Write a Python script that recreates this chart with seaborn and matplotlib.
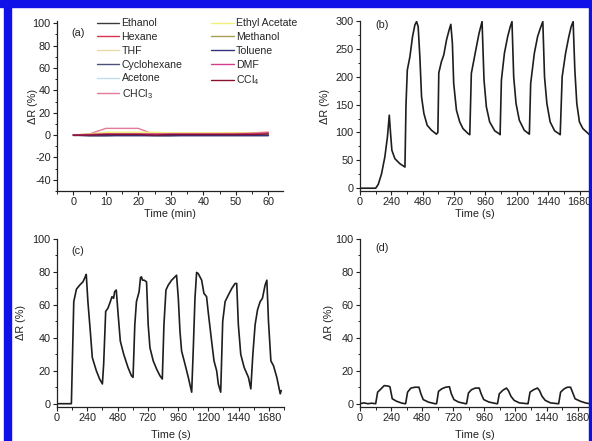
import matplotlib
matplotlib.use("Agg")
import matplotlib.pyplot as plt
import seaborn as sns
from matplotlib.patches import Rectangle
from matplotlib.ticker import MultipleLocator

# ---- panel (a): response of the sensor to 11 solvents, time in minutes
minutes = [0, 5, 10, 15, 20, 25, 30, 35, 40, 45, 50, 55, 60]
solvents = ["Ethanol", "Hexane", "THF", "Cyclohexane", "Acetone", "CHCl$_3$",
            "Ethyl Acetate", "Methanol", "Toluene", "DMF", "CCl$_4$"]
solvent_colors = ["#3a3a3a", "#d8344a", "#e6dca8", "#4a5078", "#bfe0f0", "#e47a98",
                  "#f2ee7a", "#a8a050", "#34347e", "#d4408a", "#8a1030"]
ethanol = [0, -0.5, -0.5, 0, 0, -0.5, -0.5, 0, 0, 0, 0, 0, 0.5]
hexane = [0, 0.5, 1.5, 1.5, 1.5, 1, 1.5, 1.5, 1.5, 1.5, 2, 2, 2.5]
thf = [0, 1, 2, 2, 2, 1, 1, 1, 1, 1, 1, 1, 1.5]
cyclohexane = [0, -0.5, -0.5, -0.5, -0.5, -0.5, -0.5, -0.5, -0.5, -0.5, -0.5, -0.5, -0.5]
acetone = [0, 0.5, 0.5, 0.5, 0.5, 0.5, 0.5, 0.5, 0.5, 0.5, 0.5, 0.5, 0.5]
chcl3 = [0, 1, 6, 6, 6, 0.5, 0.5, 0.5, 0.5, 0.5, 0.5, 1, 1.5]
ethyl_acetate = [0, 1, 2.5, 2.5, 2.5, 2.5, 2, 2, 2, 2, 2, 2, 2]
methanol = [0, 0.5, 1, 1, 1, 0.5, 0.5, 0.5, 0.5, 0.5, 0.5, 0.5, 1]
toluene = [0, 0, 0, 0, 0, 0, 0, 0, 0, 0, 0, 0, 0]
dmf = [0, 0.5, 1, 1, 1, 1, 1, 1, 1, 1, 1, 1.5, 2]
ccl4 = [0, 0, 0.5, 0.5, 0.5, 0, 0.5, 0.5, 0.5, 0.5, 0.5, 0.5, 1]
solvent_values = [ethanol, hexane, thf, cyclohexane, acetone, chcl3,
                  ethyl_acetate, methanol, toluene, dmf, ccl4]

# ---- panel (b)
b_time = [0, 120, 140, 165, 190, 210, 224, 234, 244, 267, 305, 344,
          352, 362, 382, 402, 420, 433, 445, 458, 471, 489, 514, 547, 585,
          596, 603, 623, 641, 662, 682, 695, 707, 717, 738, 763, 788, 827,
          840, 852, 891, 911, 934, 949, 967, 992, 1031, 1069,
          1072, 1082, 1105, 1130, 1150, 1163, 1176, 1194, 1219, 1257, 1290,
          1296, 1306, 1334, 1359, 1380, 1399, 1412, 1430, 1455, 1489, 1527,
          1532, 1547, 1573, 1598, 1616, 1631, 1644, 1659, 1679, 1705, 1756]
b_resp = [0, 0, 7, 26, 56, 92, 131, 98, 68, 53, 44, 38,
          150, 212, 236, 272, 293, 299, 290, 236, 164, 134, 113, 104, 97,
          100, 207, 227, 239, 266, 284, 294, 260, 188, 140, 119, 107, 98,
          96, 206, 254, 278, 299, 194, 146, 119, 103, 97,
          96, 194, 242, 272, 290, 299, 200, 152, 122, 104, 98,
          97, 188, 242, 272, 287, 299, 200, 152, 119, 103, 97,
          96, 200, 242, 272, 290, 299, 212, 152, 119, 107, 96]

# ---- panel (c)
c_time = [0, 114, 133, 154, 180, 206, 227, 232, 245, 264, 280, 312, 338, 360,
          370, 386, 404, 423, 436, 449, 457, 470, 484, 502, 529, 563, 590, 603,
          617, 630, 651, 662, 670, 678, 691, 710, 723, 737, 763, 790, 816, 835,
          848, 864, 882, 909, 935, 948, 962, 975, 988, 1015, 1041, 1068,
          1081, 1094, 1107, 1120, 1147, 1165, 1186, 1200, 1226, 1245, 1266, 1279, 1298,
          1314, 1333, 1359, 1386, 1412, 1425, 1438, 1457, 1484, 1518, 1537,
          1553, 1571, 1590, 1611, 1629, 1650, 1664, 1677, 1696, 1717, 1743, 1770, 1778]
c_resp = [0, 0, 62, 69.5, 72, 74, 77.6, 78.5, 62, 44, 28, 20, 15, 12,
          24, 56, 58, 62, 65, 64, 68, 69, 55, 38, 30, 22, 17, 16,
          48, 62, 68, 76.6, 77, 75, 75, 74, 48, 34, 26, 21, 17, 15,
          48, 69, 72, 75, 77, 78, 64, 44, 32, 24, 16, 7,
          34, 64, 79.7, 79, 75, 67, 65, 55, 38, 26, 20, 12, 7,
          50, 62, 66, 70, 73, 73, 48, 30, 22, 16, 9,
          30, 48, 57, 62, 64, 72, 75, 50, 26, 23, 16, 6, 8]

# ---- panel (d)
d_time = [0, 30, 60, 90, 121, 136, 162, 187, 218, 231, 249, 282, 321, 347,
          352, 367, 393, 424, 455, 470, 488, 527, 578,
          591, 606, 630, 660, 690, 705, 725, 760, 815,
          822, 837, 860, 890, 920, 935, 955, 995, 1055,
          1061, 1075, 1100, 1130, 1145, 1165, 1190, 1230, 1292,
          1297, 1312, 1340, 1370, 1385, 1405, 1430, 1470, 1528,
          1533, 1548, 1575, 1600, 1625, 1640, 1660, 1700, 1740, 1772]
d_resp = [0, 0.5, 0, 0.3, 0, 7, 9, 11, 10.7, 10.3, 3, 1.5, 0.4, 0,
          0, 7, 9.5, 10, 10, 6, 2.5, 1, 0,
          0, 7.5, 9, 10, 10.3, 6, 2.5, 1, 0,
          0, 6.5, 8.5, 9.5, 9.5, 6, 2.5, 1, 0,
          0, 6, 8, 9.5, 8, 4.5, 2, 0.5, 0,
          0, 7, 8.5, 9.5, 8, 4.5, 2, 0.5, 0,
          0, 7, 9, 10, 10, 7, 3, 1.5, 0.5, 0]

W, H = 592, 441


def box(left, top, right, bottom):
    return [left / W, 1 - bottom / H, (right - left) / W, (bottom - top) / H]


def style_axis(ax, xmajor, ymajor, label, tag, tag_y, ylab_x, xlab_y):
    sns.despine(ax=ax)
    ax.xaxis.set_major_locator(MultipleLocator(xmajor))
    ax.xaxis.set_minor_locator(MultipleLocator(xmajor / 2))
    ax.yaxis.set_major_locator(MultipleLocator(ymajor))
    ax.yaxis.set_minor_locator(MultipleLocator(ymajor / 2))
    ax.tick_params(which="major", direction="out", length=3, width=0.8,
                   labelsize=7.8, pad=1.5, color="#222222", labelcolor="#222222")
    ax.tick_params(which="minor", direction="out", length=1.8, width=0.7, color="#222222")
    for sp in ax.spines.values():
        sp.set_linewidth(0.9)
        sp.set_color("#222222")
    ax.set_xlabel(label, fontsize=7.8, color="#222222")
    ax.set_ylabel("ΔR (%)", fontsize=7.8, color="#222222")
    # label anchors: right edge of the rotated y label, top of the x label
    ax.yaxis.set_label_coords(ylab_x, 0.5)
    ax.xaxis.set_label_coords(0.5, xlab_y)
    ax.text(0.065, tag_y, tag, transform=ax.transAxes, fontsize=7.8,
            va="center", ha="left", color="#222222")


sns.set_theme(style="ticks")
plt.rcParams["font.family"] = ["Liberation Sans", "DejaVu Sans"]
plt.rcParams["mathtext.default"] = "regular"
plt.rcParams["axes.unicode_minus"] = False

fig = plt.figure(figsize=(W / 100, H / 100), dpi=100)

ax_a = fig.add_axes(box(57, 21, 283, 191))
ax_b = fig.add_axes(box(360, 21, 590, 191))
ax_c = fig.add_axes(box(57, 239, 284, 407))
ax_d = fig.add_axes(box(360, 239, 590, 407))

for name, color, vals in zip(solvents, solvent_colors, solvent_values):
    sns.lineplot(x=minutes, y=vals, color=color, lw=1.0, label=name,
                 estimator=None, ax=ax_a)
ax_a.set_xlim(-5, 64.5)
ax_a.set_ylim(-50, 102)
ax_a.legend(ncol=2, frameon=False, fontsize=7.6, loc="upper left",
            bbox_to_anchor=(0.157, 1.04), handlelength=2.1, handletextpad=0.25,
            columnspacing=2.75, labelspacing=0.35, borderaxespad=0)
style_axis(ax_a, 10, 20, "Time (min)", "(a)", 0.93, -0.084, -0.105)

line_kw = dict(color="#1e1e1e", lw=1.2, estimator=None, sort=False)
sns.lineplot(x=b_time, y=b_resp, ax=ax_b, **line_kw)
ax_b.set_xlim(0, 1760)
ax_b.set_ylim(-5, 300)
style_axis(ax_b, 240, 50, "Time (s)", "(b)", 0.975, -0.13, -0.105)

sns.lineplot(x=c_time, y=c_resp, ax=ax_c, **line_kw)
ax_c.set_xlim(0, 1800)
ax_c.set_ylim(-2, 100)
style_axis(ax_c, 240, 20, "Time (s)", "(c)", 0.93, -0.137, -0.137)

sns.lineplot(x=d_time, y=d_resp, ax=ax_d, **line_kw)
ax_d.set_xlim(0, 1775)
ax_d.set_ylim(-2, 100)
style_axis(ax_d, 240, 20, "Time (s)", "(d)", 0.945, -0.113, -0.137)

# blue frame around the figure
frame = "#1010e8"
fig.patches.append(Rectangle((4 / W, 0), 7 / W, 1, transform=fig.transFigure,
                             color=frame, zorder=0))
fig.patches.append(Rectangle((0, 1 - 7 / H), 1, 7 / H, transform=fig.transFigure,
                             color=frame, zorder=0))
fig.patches.append(Rectangle((589 / W, 0), 3 / W, 1, transform=fig.transFigure,
                             color=frame, zorder=0))

fig.savefig("out.png", dpi=100)
